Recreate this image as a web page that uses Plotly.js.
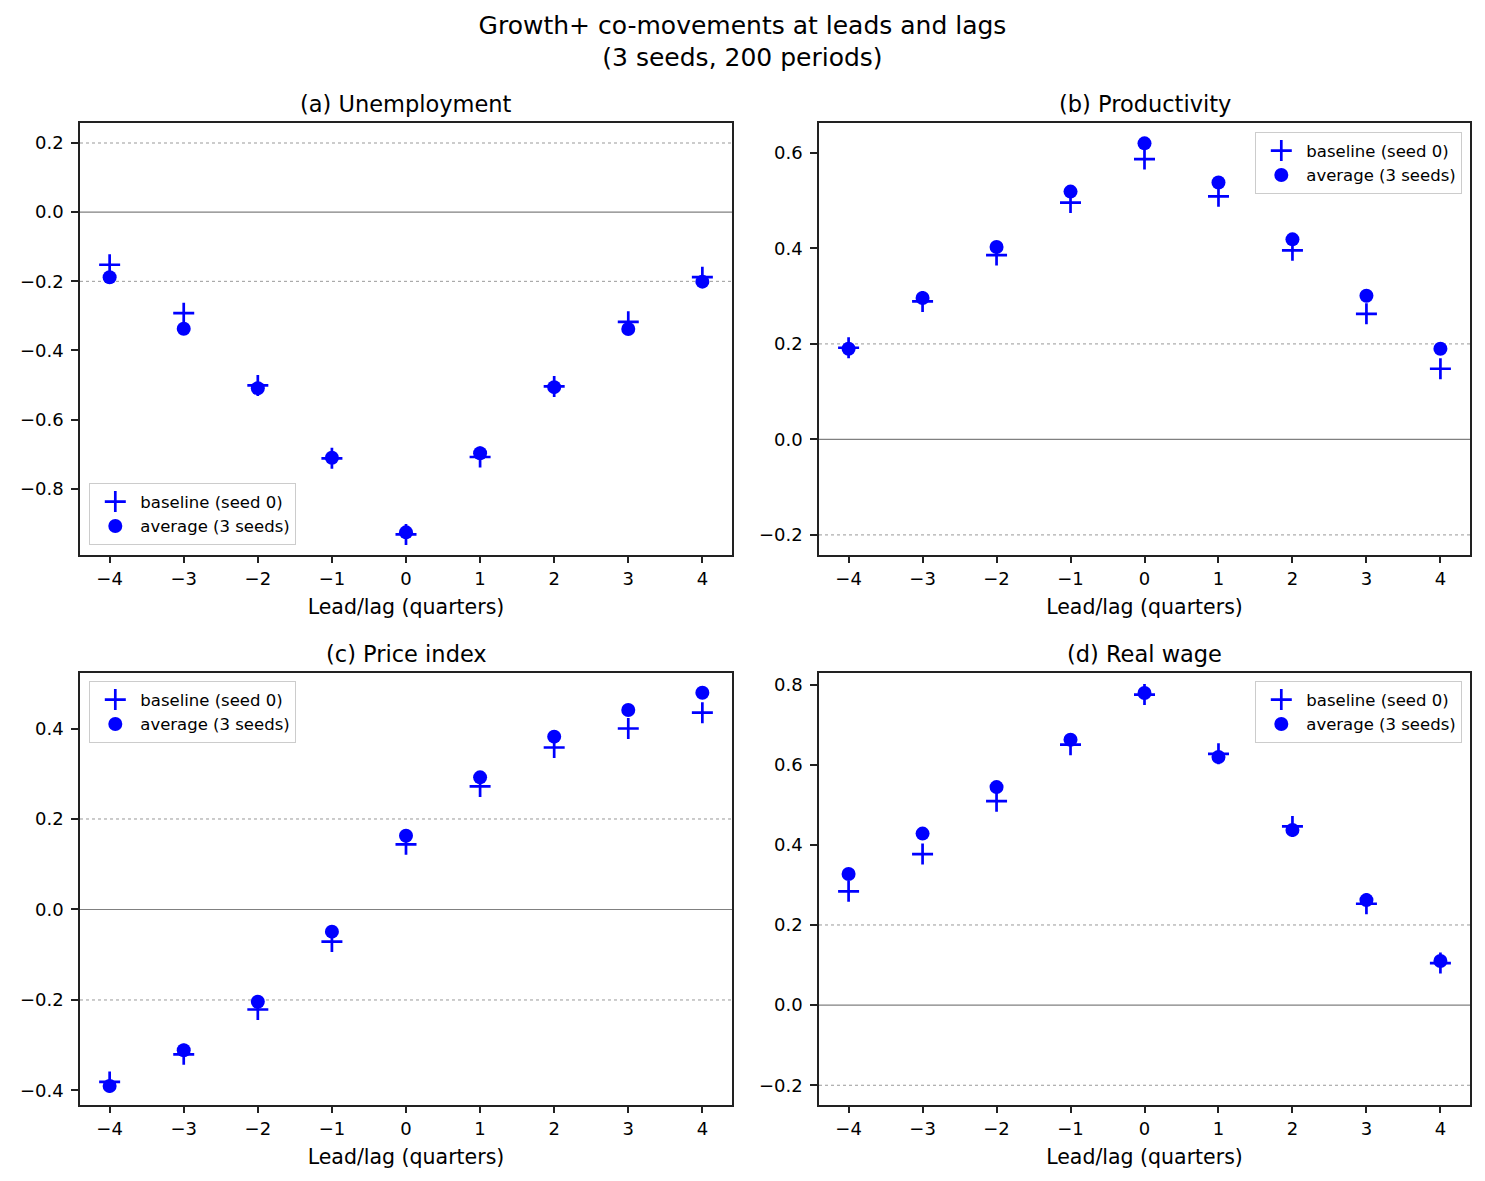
<!DOCTYPE html>
<html>
<head>
<meta charset="utf-8">
<script src="https://cdn.plot.ly/plotly-3.0.1.min.js"></script>
<style>
  html, body { margin: 0; padding: 0; background: #fff; }
  #fig { width: 1485px; height: 1181px; }
</style>
</head>
<body>
<div id="fig"></div>
<script>
    // lead/lag correlations
    var lags = [-4, -3, -2, -1, 0, 1, 2, 3, 4];

    var unempBase = [-0.152, -0.292, -0.501, -0.712, -0.932, -0.708, -0.504, -0.317, -0.188];
    var unempAvg  = [-0.188, -0.337, -0.509, -0.710, -0.926, -0.697, -0.506, -0.338, -0.201];

    var prodBase = [0.192, 0.289, 0.386, 0.496, 0.587, 0.509, 0.396, 0.263, 0.148];
    var prodAvg  = [0.190, 0.296, 0.403, 0.519, 0.620, 0.538, 0.419, 0.301, 0.190];

    var priceBase = [-0.381, -0.320, -0.221, -0.071, 0.144, 0.272, 0.358, 0.400, 0.435];
    var priceAvg  = [-0.390, -0.311, -0.204, -0.049, 0.163, 0.292, 0.382, 0.441, 0.479];

    var wageBase = [0.284, 0.377, 0.509, 0.650, 0.775, 0.627, 0.446, 0.253, 0.105];
    var wageAvg  = [0.327, 0.428, 0.544, 0.662, 0.779, 0.619, 0.437, 0.262, 0.110];

    var panelTitles = ['(a) Unemployment', '(b) Productivity', '(c) Price index', '(d) Real wage'];
    var seriesNames = ['baseline (seed 0)', 'average (3 seeds)'];
    var dottedLevels = [0.2, -0.2];
    var yRanges = [[-0.99, 0.257], [-0.241, 0.662], [-0.431, 0.522], [-0.248, 0.828]];

    var panels = [
        {base: unempBase, avg: unempAvg},
        {base: prodBase, avg: prodAvg},
        {base: priceBase, avg: priceAvg},
        {base: wageBase, avg: wageAvg}
    ];

    var W = 1485, H = 1181;
    var xDom = [[80 / W, 732 / W], [819 / W, 1470 / W], [80 / W, 732 / W], [819 / W, 1470 / W]];
    var yDom = [[1 - 554.5 / H, 1 - 123.3 / H], [1 - 554.5 / H, 1 - 123.3 / H],
                [1 - 1104.5 / H, 1 - 673.3 / H], [1 - 1104.5 / H, 1 - 673.3 / H]];
    var legendPos = [
        {x: 89 / W, y: 1 - 545 / H, xanchor: 'left', yanchor: 'bottom'},
        {x: 1462 / W, y: 1 - 132 / H, xanchor: 'right', yanchor: 'top'},
        {x: 89 / W, y: 1 - 681 / H, xanchor: 'left', yanchor: 'top'},
        {x: 1462 / W, y: 1 - 681 / H, xanchor: 'right', yanchor: 'top'}
    ];

    var font = "DejaVu Sans, Verdana, sans-serif";
    var data = [];
    var layout = {
        width: W,
        height: H,
        margin: {t: 0, r: 0, l: 0, b: 0},
        paper_bgcolor: '#fff',
        plot_bgcolor: '#fff',
        showlegend: true,
        font: {family: font, size: 18, color: '#000'},
        title: {
            text: 'Growth+ co-movements at leads and lags<br>(3 seeds, 200 periods)',
            x: 0.5,
            xanchor: 'center',
            y: 1 - 33.5 / H,
            yanchor: 'middle',
            font: {family: font, size: 25, color: '#000'}
        },
        annotations: [],
        shapes: []
    };

    panels.forEach(function (p, i) {
        var n = i === 0 ? '' : String(i + 1);
        var legendId = 'legend' + n;
        data.push({
            x: lags, y: p.base,
            name: seriesNames[0],
            type: 'scatter', mode: 'markers',
            xaxis: 'x' + n, yaxis: 'y' + n,
            legend: legendId,
            marker: {symbol: 'cross-thin', size: 15, color: '#0000ff',
                     line: {width: 2.7, color: '#0000ff'}}
        });
        data.push({
            x: lags, y: p.avg,
            name: seriesNames[1],
            type: 'scatter', mode: 'markers',
            xaxis: 'x' + n, yaxis: 'y' + n,
            legend: legendId,
            marker: {symbol: 'circle', size: 14, color: '#0000ff', line: {width: 0}}
        });

        layout['xaxis' + n] = {
            domain: xDom[i],
            anchor: 'y' + n,
            range: [-4.4, 4.4],
            tickmode: 'linear', tick0: 0, dtick: 1,
            ticks: 'outside', ticklen: 7, tickwidth: 1.6, tickcolor: '#222',
            showline: true, linecolor: '#222', linewidth: 1.6, mirror: true,
            showgrid: false, zeroline: false,
            tickfont: {size: 18},
            automargin: false,
            title: {text: 'Lead/lag (quarters)', font: {size: 20.5}, standoff: 12}
        };
        layout['yaxis' + n] = {
            domain: yDom[i],
            anchor: 'x' + n,
            range: yRanges[i],
            tickmode: 'linear', tick0: 0, dtick: 0.2, tickformat: '.1f',
            ticks: 'outside', ticklen: 7, tickwidth: 1.6, tickcolor: '#222',
            ticklabelstandoff: 4,
            showline: true, linecolor: '#222', linewidth: 1.6, mirror: true,
            showgrid: false, zeroline: false,
            tickfont: {size: 18},
            automargin: false
        };
        layout[legendId] = {
            x: legendPos[i].x, y: legendPos[i].y,
            xanchor: legendPos[i].xanchor, yanchor: legendPos[i].yanchor,
            bgcolor: 'rgba(255,255,255,0.8)',
            bordercolor: '#cccccc', borderwidth: 1.3,
            font: {size: 16.5, color: '#000'},
            itemwidth: 40,
            tracegroupgap: 0
        };

        layout.annotations.push({
            text: panelTitles[i],
            xref: 'x' + n + ' domain', yref: 'y' + n + ' domain',
            x: 0.5, y: 1, xanchor: 'center', yanchor: 'middle', yshift: 19,
            showarrow: false,
            font: {size: 22.5, color: '#000'}
        });

        // zero line and dotted reference lines
        layout.shapes.push({
            type: 'line', xref: 'x' + n + ' domain', yref: 'y' + n,
            x0: 0, x1: 1, y0: 0, y1: 0, layer: 'below',
            line: {color: '#808080', width: 1.2}
        });
        dottedLevels.forEach(function (lv) {
            layout.shapes.push({
                type: 'line', xref: 'x' + n + ' domain', yref: 'y' + n,
                x0: 0, x1: 1, y0: lv, y1: lv, layer: 'below',
                line: {color: '#999999', width: 1, dash: 'dot'}
            });
        });
    });

    Plotly.newPlot('fig', data, layout, {displayModeBar: false, responsive: false});
</script>
</body>
</html>
